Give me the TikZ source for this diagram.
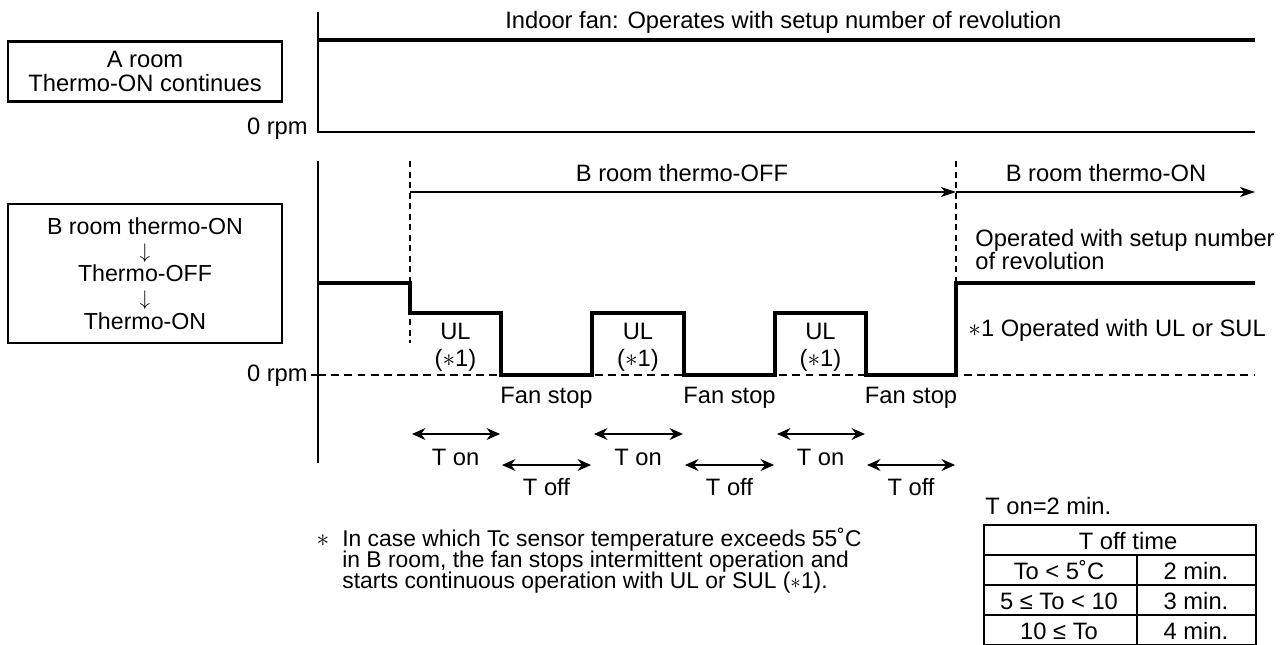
\documentclass[tikz,border=0pt]{standalone}
\usepackage{fontspec}
\setmainfont{Liberation Sans}
\usetikzlibrary{arrows.meta, positioning, calc}

\begin{document}
\begin{tikzpicture}[x=0.02cm, y=-0.02cm,
    lbl/.style={font=\fontsize{13.5}{16}\selectfont, inner sep=0pt, anchor=base},
    notelbl/.style={lbl, font=\fontsize{13}{16}\selectfont, anchor=base west},
    roombox/.style={draw, line width=1.2pt, align=center, inner sep=0pt,
                    font=\fontsize{13.2}{13.5}\selectfont, minimum width=5.48cm},
    axis/.style={line width=1.3pt},
    wave/.style={line width=2.2pt, line join=miter},
    marker/.style={line width=1.2pt, dash pattern=on 3.4pt off 2.6pt},
    zeroline/.style={line width=1.2pt, dash pattern=on 4.5pt off 3pt},
    span/.style={-{Stealth[length=3mm, width=2mm, inset=0.8mm]}, line width=0.7pt},
    period/.style={{Stealth[length=2.7mm, width=2.4mm, inset=0.9mm]}-{Stealth[length=2.7mm, width=2.4mm, inset=0.9mm]},
                   line width=0.7pt}
  ]
    \useasboundingbox (0,0) rectangle (1288,645);

    % upper chart: A room
    \node[roombox, minimum height=1.2cm, font=\fontsize{13.5}{14}\selectfont] (aroom) at (145,71.5)
      {A room\\Thermo-ON continues};
    \draw[axis] (318,12) -- (318,132) -- (1255,132);
    \draw[line width=2pt] (318,40) -- (1255,40);
    \node[lbl, anchor=base west] (fanset) at (505,29)
      {Indoor fan: Operates with setup number of revolution};
    \node[lbl, anchor=base east] (zeroa) at (308,135) {0 rpm};

    % lower chart: B room
    \node[roombox, minimum height=2.78cm] (broom) at (145,273.5)
      {B room thermo-ON\\\smash{$\downarrow$}\\Thermo-OFF\\\smash{$\downarrow$}\\Thermo-ON};
    \draw[axis] (318,161) -- (318,463);
    \draw[axis] (311,375) -- (318,375);
    \node[lbl, anchor=base east] (zerob) at (308,381) {0 rpm};
    \draw[zeroline] (318,375) -- (1255,375);

    \coordinate (offstart) at (410,192);
    \coordinate (onstart)  at (956,192);
    \coordinate (onend)    at (1255,192);
    \draw[marker] (410,161) -- (410,343);
    \draw[marker] (956,161) -- (956,283);
    \draw[span] (offstart) -- (onstart);
    \draw[span] (onstart) -- (onend);
    \node[lbl] (offlbl) at (682,182) {B room thermo-OFF};
    \node[lbl] (onlbl)  at (1106,182) {B room thermo-ON};

    \draw[wave] (318,283) -- (410,283) -- (410,313) -- (501,313) -- (501,375)
      -- (592,375) -- (592,313) -- (684,313) -- (684,375) -- (775,375)
      -- (775,313) -- (866,313) -- (866,375) -- (956,375) -- (956,283)
      -- (1255,283);

    \node[lbl, anchor=base west] (setupa) at (975,247) {Operated with setup number};
    \node[lbl, anchor=base west] (setupb) at (975,270) {of revolution};
    \node[lbl, anchor=base west] (ulnote) at (968,337) {$\ast$1 Operated with UL or SUL};

    \foreach \i/\xa/\xb/\xc in {1/410/501/592, 2/592/684/775, 3/775/866/956} {
      \node[lbl] (ul\i)   at ({(\xa+\xb)/2},339) {UL};
      \node[lbl] (ulref\i) at ({(\xa+\xb)/2},366) {($\ast$1)};
      \node[lbl] (stop\i) at ({(\xb+\xc)/2},403) {Fan stop};
      \coordinate (ona\i)  at (\xa+2,434);
      \coordinate (onb\i)  at (\xb-1,434);
      \coordinate (offa\i) at (\xb+1,465);
      \coordinate (offb\i) at (\xc-1,465);
      \draw[period] (ona\i) -- (onb\i);
      \draw[period] (offa\i) -- (offb\i);
      \node[lbl] (ton\i)  at ({(\xa+\xb)/2},465) {T on};
      \node[lbl] (toff\i) at ({(\xb+\xc)/2},495) {T off};
    }

    % footnote
    \node[lbl] (star) at (323,546) {$\ast$};
    \node[notelbl] (notea) at (342,546)
      {In case which Tc sensor temperature exceeds 55˚C};
    \node[notelbl] (noteb) at (342,567)
      {in B room, the fan stops intermittent operation and};
    \node[notelbl] (notec) at (342,588)
      {starts continuous operation with UL or SUL ($\ast$1).};

    % T off table
    \node[lbl, anchor=base west] (tonval) at (985,514) {T on=2 min.};
    \draw[line width=0.8pt] (984,555) -- (1256,555)
      (984,585) -- (1256,585) (984,615) -- (1256,615)
      (1137,555) -- (1137,645);
    \draw[line width=1.4pt] (984,525) rectangle (1256,645);
    \node[lbl] (thead) at (1128,549) {T off time};
    \node[lbl] (r1a) at (1059,579) {To < 5˚C};
    \node[lbl] (r1b) at (1196,579) {2 min.};
    \node[lbl] (r2a) at (1059,609) {5 ≤ To < 10};
    \node[lbl] (r2b) at (1196,609) {3 min.};
    \node[lbl] (r3a) at (1059,639) {10 ≤ To};
    \node[lbl] (r3b) at (1196,639) {4 min.};
  \end{tikzpicture}
\end{document}
